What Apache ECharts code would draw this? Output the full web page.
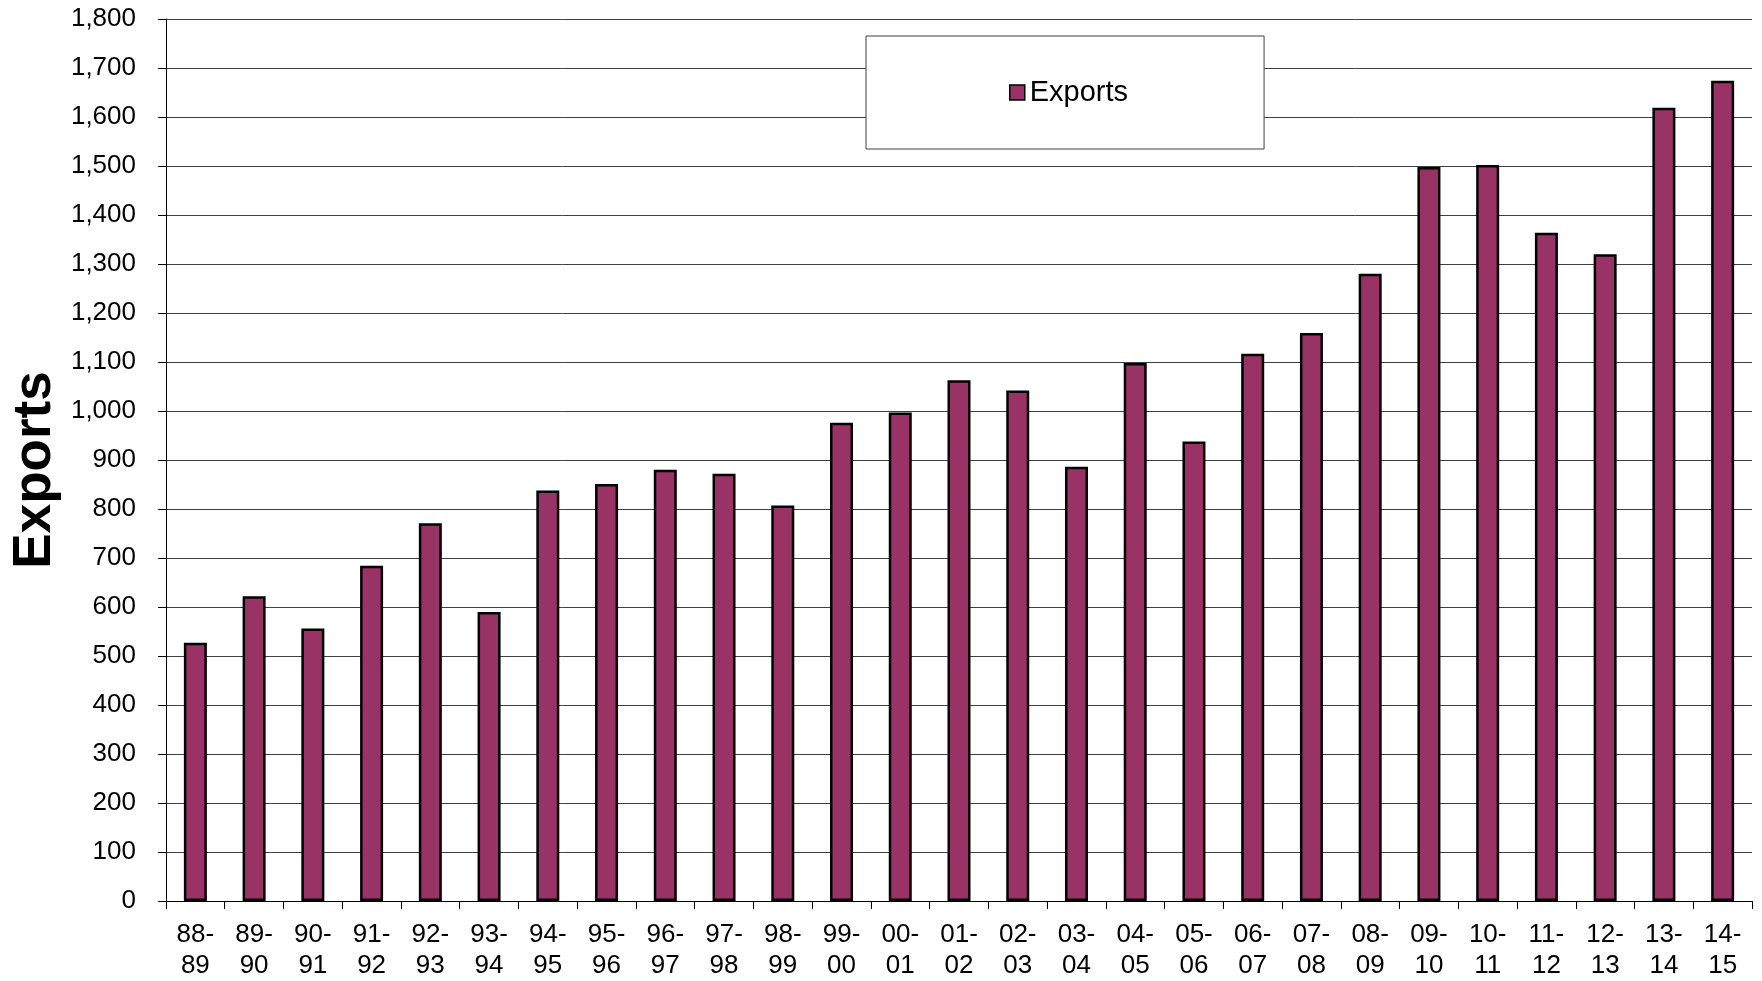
<!DOCTYPE html>
<html>
<head>
<meta charset="utf-8">
<script src="https://cdn.jsdelivr.net/npm/echarts@6/dist/echarts.min.js"></script>
<style>
html,body{margin:0;padding:0;background:#fff;}
#chart{width:1762px;height:981px;}
</style>
</head>
<body>
<div id="chart"></div>
<script>
const categories = ["88-\n89","89-\n90","90-\n91","91-\n92","92-\n93","93-\n94","94-\n95","95-\n96","96-\n97","97-\n98","98-\n99","99-\n00","00-\n01","01-\n02","02-\n03","03-\n04","04-\n05","05-\n06","06-\n07","07-\n08","08-\n09","09-\n10","10-\n11","11-\n12","12-\n13","13-\n14","14-\n15"];
const exportsValues = [527,622,556,684,771,590,838,851,880,872,807,976,997,1063,1042,886,1098,938,1117,1159,1280,1498,1502,1364,1320,1619,1674];
const seriesName = "Exports";
const axisTitle = "Exports";

const FONT = "'Liberation Sans', Arial, sans-serif";
const chart = echarts.init(document.getElementById('chart'), null, {renderer:'canvas'});
chart.setOption({
  backgroundColor: '#ffffff',
  animation: false,
  textStyle: { fontFamily: FONT },
  grid: { left: 166, right: 10, top: 19, bottom: 77.5, containLabel: false },
  legend: {
    data: [seriesName],
    left: 866, top: 36,
    padding: [42, 136, 42, 143],
    backgroundColor: '#ffffff',
    borderColor: '#404040',
    borderWidth: 1,
    borderRadius: 0,
    itemWidth: 15, itemHeight: 15,
    icon: 'rect',
    itemStyle: { color: '#993366', borderColor: '#000000', borderWidth: 1.5 },
    textStyle: { fontFamily: FONT, fontSize: 29, color: '#000000' }
  },
  xAxis: {
    type: 'category',
    data: categories,
    boundaryGap: true,
    axisLine: { show: true, lineStyle: { color: '#000000', width: 1 } },
    axisTick: { show: true, alignWithLabel: false, length: 8, lineStyle: { color: '#000000' } },
    axisLabel: { interval: 0, fontFamily: FONT, fontSize: 26, color: '#000000', lineHeight: 31, margin: 18 },
    splitLine: { show: false }
  },
  yAxis: {
    type: 'value',
    min: 0, max: 1800, interval: 100,
    axisLine: { show: true, lineStyle: { color: '#000000', width: 1 } },
    axisTick: { show: true, length: 8, lineStyle: { color: '#000000' } },
    axisLabel: {
      fontFamily: FONT, fontSize: 26, color: '#000000', margin: 30,
      formatter: v => v.toString().replace(/\B(?=(\d{3})+(?!\d))/g, ',')
    },
    splitLine: { show: true, lineStyle: { color: '#404040', width: 1 } }
  },
  graphic: [{
    type: 'text',
    x: 35, y: 470,
    rotation: Math.PI / 2,
    style: {
      text: axisTitle,
      fontFamily: FONT, fontSize: 53, fontWeight: 'bold', fill: '#000000',
      textAlign: 'center', textVerticalAlign: 'middle'
    }
  }],
  series: [{
    name: seriesName,
    type: 'bar',
    data: exportsValues,
    barWidth: 23,
    itemStyle: { color: '#993366', borderColor: '#000000', borderWidth: 2.5 }
  }]
});
</script>
</body>
</html>
